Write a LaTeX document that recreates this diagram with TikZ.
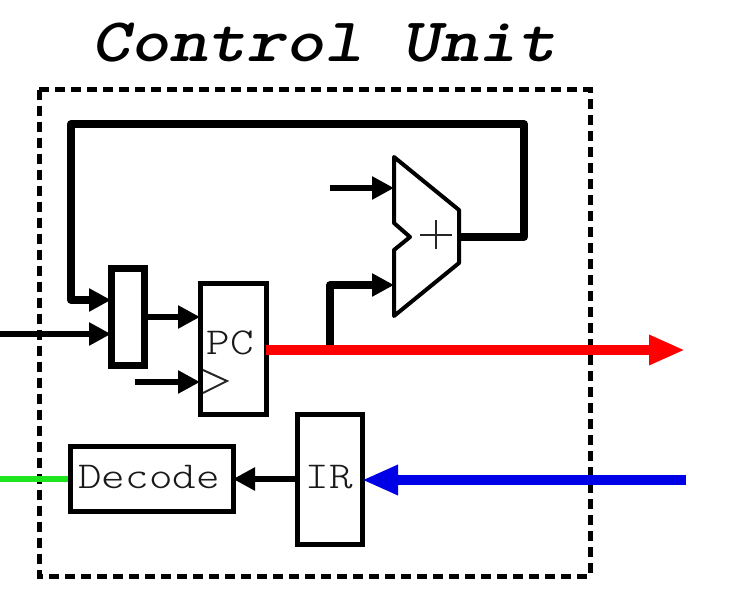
\documentclass[tikz,border=0pt]{standalone}
\usepackage{fontspec}
\usetikzlibrary{arrows.meta}
\newfontfamily\lablfont[FakeStretch=1.18]{Latin Modern Mono Light}
\definecolor{wirered}{RGB}{255,0,0}
\definecolor{wireblue}{RGB}{0,0,230}
\definecolor{wiregreen}{RGB}{30,230,30}
\tikzset{
  box/.style={draw=black,fill=white,line width=5pt,inner sep=0pt,outer sep=0pt},
  muxbox/.style={box,line width=7pt},
  lbl/.style={inner sep=0pt,outer sep=0pt,font=\lablfont\fontsize{38}{38}\selectfont,text=black!90},
  wire/.style={draw=black,line width=7.5pt,line join=round},
  thinwire/.style={wire,line width=6.5pt},
  bk/.style={-{Triangle[length=22pt,width=22pt]}},
  big/.style={-{Triangle[length=36pt,width=28pt]},line width=10pt},
}
\begin{document}
\begin{tikzpicture}[x=1pt,y=-1pt]
\useasboundingbox (0,0) rectangle (744,609);
\node[inner sep=0pt,outer sep=0pt,anchor=center] (title) at (324,43)
  {\scalebox{1.19}[1]{\fontsize{62}{62}\selectfont\ttfamily\bfseries\slshape Control Unit}};
\draw[line width=5pt,dash pattern=on 10pt off 6pt] (39,90) rectangle (590,576);
% coordinates
\coordinate (fbA) at (524,237);
\coordinate (fbB) at (524,124);
\coordinate (fbC) at (71,124);
\coordinate (fbD) at (71,300);
\coordinate (inL) at (0,334);
\coordinate (clk) at (135,382);
\coordinate (addIn) at (330,188);
\coordinate (tap) at (330,350);
\coordinate (tapUp) at (330,285);
\coordinate (redEnd) at (685,350);
\coordinate (blueStart) at (686,480);
\coordinate (greenL) at (0,479);
\coordinate (addOut) at (459,237);
\coordinate (addTop) at (394,188);
\coordinate (addBot) at (394,285);
% green wire below the box
\draw[line width=6pt,draw=wiregreen] (greenL) -- (70,479) coordinate (decW);
% boxes
\node[muxbox,minimum width=33pt,minimum height=97pt] (mux) at (127.5,317.5) {};
\node[box,minimum width=66pt,minimum height=130pt] (pc) at (233,349) {};
\node[box,minimum width=65pt,minimum height=130pt] (ir) at (329.5,479) {};
\node[box,minimum width=163pt,minimum height=65pt] (dec) at (151.5,478.5) {};
\node[lbl] (pcl) at (230,343) {PC};
\node[lbl] (irl) at (329,477) {IR};
\node[lbl] (decl) at (149,477) {Decode};
% clock triangle
\draw[line width=2pt,black!85,line join=miter] (203,370) -- (227,381) -- (203,393);
% adder
\draw[line width=4pt,line join=round,fill=white] (394,157) -- (459,210) -- (459,263) -- (394,316) -- (394,250) -- (410,237) -- (394,223) -- cycle;
\node[inner sep=0pt,outer sep=0pt,minimum width=32pt,minimum height=29pt,
  path picture={\draw[line width=2pt,black!85] (path picture bounding box.west) -- (path picture bounding box.east) (path picture bounding box.north) -- (path picture bounding box.south);}] (plus) at (436,235) {};
% wires
\draw[wire,bk] (addOut) -- (fbA) -- (fbB) -- (fbC) -- (fbD) -- (mux.west |- fbD);
\draw[thinwire,bk] (inL) -- (mux.west |- inL);
\draw[thinwire,bk] (mux.east |- 0,317) -- (pc.west |- 0,317);
\draw[thinwire,bk] (clk) -- (pc.west |- clk);
\draw[thinwire,bk] (addIn) -- (addTop);
\draw[wire,bk] (tap) -- (tapUp) -- (addBot);
\draw[thinwire,bk] (ir.west |- 0,479) -- (dec.east |- 0,479);
\draw[big,draw=wirered,fill=wirered] (pc.east |- tap) -- (redEnd);
\draw[big,draw=wireblue,fill=wireblue] (blueStart) -- (ir.east |- blueStart);
\end{tikzpicture}
\end{document}
